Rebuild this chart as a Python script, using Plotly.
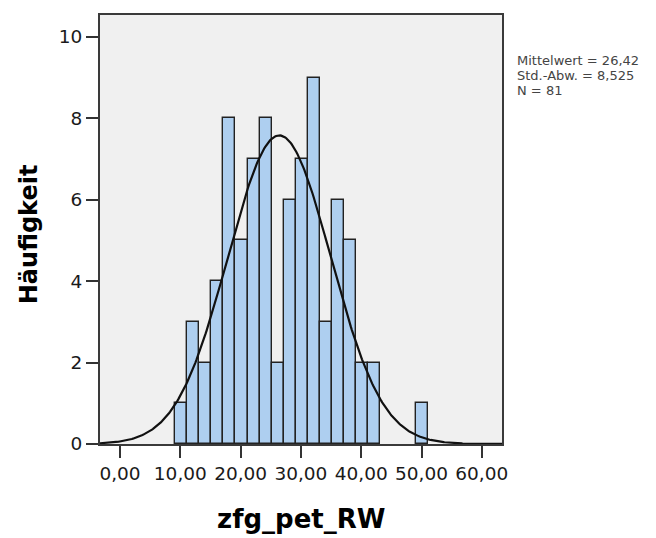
import numpy as np
import plotly.graph_objects as go

# ---- data ----
bin_start = 9.15
bin_width = 2.0
counts = [1, 3, 2, 4, 8, 5, 7, 8, 2, 6, 7, 9, 3, 6, 5, 2, 2, 0, 0, 0, 1]
mean_val = 26.42
sd_val = 8.525
n_val = 81
x_ticks = [0, 10, 20, 30, 40, 50, 60]
x_tick_text = ["0,00", "10,00", "20,00", "30,00", "40,00", "50,00", "60,00"]
y_ticks = [0, 2, 4, 6, 8, 10]
stats_lines = ["Mittelwert = 26,42", "Std.-Abw. = 8,525", "N = 81"]
x_title = "zfg_pet_RW"
y_title = "Häufigkeit"

centers = [bin_start + bin_width * (i + 0.5) for i in range(len(counts))]
bx = [c for c, v in zip(centers, counts) if v > 0]
by = [v for v in counts if v > 0]

xs = np.linspace(-3.4, 63.4, 400)
ys = n_val * bin_width * np.exp(-0.5 * ((xs - mean_val) / sd_val) ** 2) / (sd_val * np.sqrt(2 * np.pi))

fig = go.Figure()
fig.add_trace(go.Bar(
    x=bx, y=by, width=bin_width,
    marker=dict(color="#aecff0", line=dict(color="#222222", width=1.4)),
    hoverinfo="x+y",
))
fig.add_trace(go.Scatter(
    x=xs, y=ys, mode="lines",
    line=dict(color="#111111", width=2.2),
    hoverinfo="skip",
))

font_fam = "DejaVu Sans"
fig.update_layout(
    width=656, height=538,
    margin=dict(l=100, r=154, t=15, b=94),
    paper_bgcolor="white",
    plot_bgcolor="#f0f0f0",
    showlegend=False,
    bargap=0,
    separators=",.",
    font=dict(family=font_fam, color="#222222"),
)
fig.update_xaxes(
    range=[-3.32, 63.35],
    tickmode="array", tickvals=x_ticks, ticktext=x_tick_text,
    ticks="outside", ticklen=12, tickwidth=2, tickcolor="#333333",
    tickfont=dict(family=font_fam, size=18.5, color="#1a1a1a"),
    showgrid=False, zeroline=False,
    showline=True, linecolor="#3a3a3a", linewidth=2, mirror=True,
)
fig.update_yaxes(
    range=[0, 10.54],
    tickmode="array", tickvals=y_ticks,
    ticks="outside", ticklen=12, tickwidth=2, tickcolor="#333333",
    tickfont=dict(family=font_fam, size=18.5, color="#1a1a1a"),
    showgrid=False, zeroline=False,
    showline=True, linecolor="#3a3a3a", linewidth=2, mirror=True,
)

# axis titles
fig.add_annotation(text=y_title, xref="paper", yref="paper",
                   x=-0.178, y=0.49, textangle=-90, showarrow=False,
                   xanchor="center", yanchor="middle",
                   font=dict(family=font_fam, size=24, color="#000000", weight="bold"))
fig.add_annotation(text=x_title, xref="paper", yref="paper",
                   x=0.5, y=-0.175, showarrow=False,
                   xanchor="center", yanchor="middle",
                   font=dict(family=font_fam, size=26, color="#000000", weight="bold"))

# statistics box text
for i, line in enumerate(stats_lines):
    fig.add_annotation(text=line, xref="paper", yref="paper",
                       x=1.032, y=0.895 - i * 0.036, showarrow=False,
                       xanchor="left", yanchor="middle",
                       font=dict(family=font_fam, size=13, color="#444444"))

fig.write_html("out.html")
